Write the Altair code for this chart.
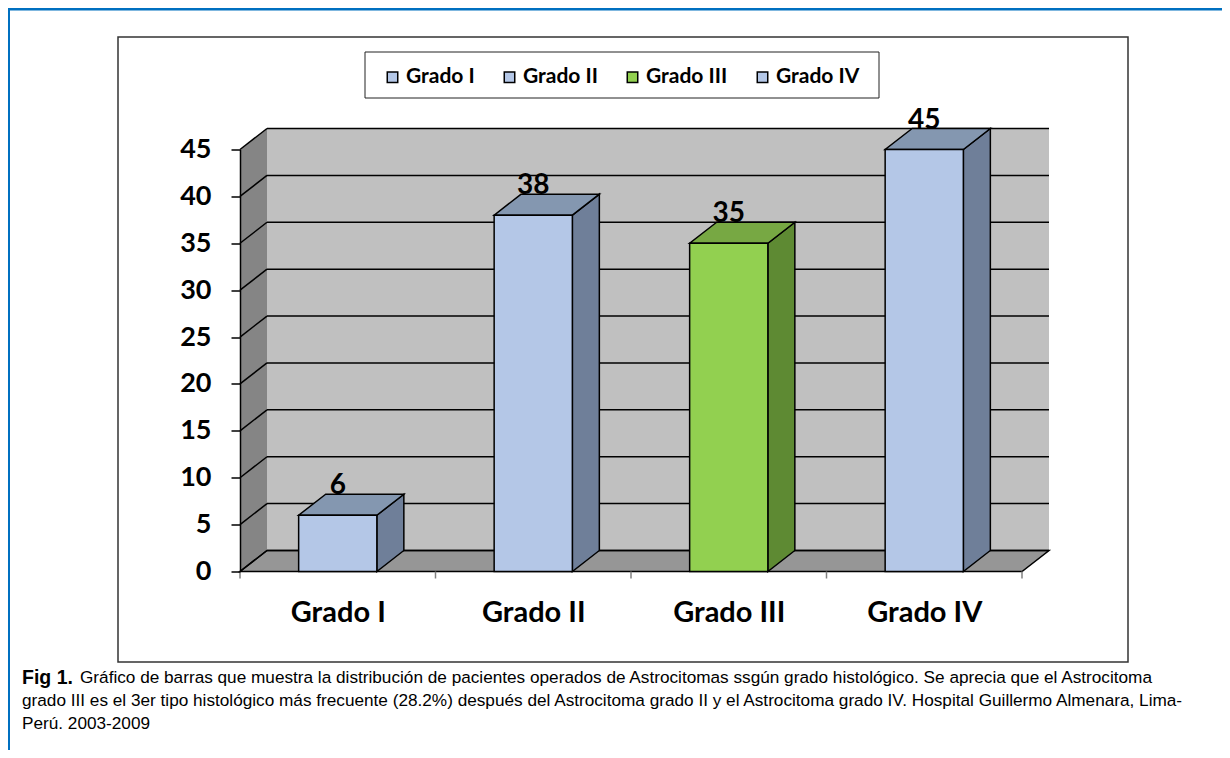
import json
import altair as alt
import pandas as pd

# ---------------- data ----------------
categories = ["Grado I", "Grado II", "Grado III", "Grado IV"]
values = [6, 38, 35, 45]
front_colors = ["#B4C7E7", "#B4C7E7", "#92D050", "#B4C7E7"]
top_colors = ["#8497B0", "#8497B0", "#77A843", "#8497B0"]
side_colors = ["#6F7F99", "#6F7F99", "#5E8A33", "#6F7F99"]
y_ticks = [0, 5, 10, 15, 20, 25, 30, 35, 40, 45]
caption_bold = "Fig 1."
caption_lines = [
    "Gráfico de barras que muestra la distribución de pacientes operados de Astrocitomas ssgún grado histológico. Se aprecia que el Astrocitoma",
    "grado III es el 3er tipo histológico más frecuente (28.2%) después del Astrocitoma grado II y el Astrocitoma grado IV. Hospital Guillermo Almenara, Lima-",
    "Perú. 2003-2009",
]

# ---------------- geometry / style ----------------
W, H = 782, 422
N = len(categories)
Y_MAX = y_ticks[-1]
DX = 27 / (W / N)          # depth in x data units
DY = 21 / (H / Y_MAX)      # depth in y data units
BAR = 0.4
FONT = "Lato"
CAP_FONT = "Liberation Sans Narrow, Arial Narrow, Liberation Sans"

xs = alt.Scale(domain=[0, N], nice=False, zero=False)
ys = alt.Scale(domain=[0, Y_MAX], nice=False, zero=False)

label_expr = json.dumps(categories) + "[floor(datum.value)]"
x_axis = alt.Axis(values=[i + 0.5 for i in range(N)], labelExpr=label_expr, ticks=False,
                  domain=False, grid=False, title=None, labelFont=FONT, labelFontSize=29,
                  labelFontWeight="bold", labelColor="black", labelPadding=27)
y_axis = alt.Axis(values=y_ticks, grid=False, title=None, labelFont=FONT, labelFontSize=27,
                  labelFontWeight="bold", labelColor="black", tickColor="black", tickSize=9,
                  tickWidth=1.5, domainColor="black", domainWidth=1.5, labelPadding=20, zindex=1)


def X(f, stack=False):
    if stack:
        return alt.X(f, type="quantitative", scale=xs, axis=x_axis, stack=None)
    return alt.X(f, type="quantitative", scale=xs, axis=x_axis)


def Y(f, stack=False):
    if stack:
        return alt.Y(f, type="quantitative", scale=ys, axis=y_axis, stack=None)
    return alt.Y(f, type="quantitative", scale=ys, axis=y_axis)


# ---------------- derived tables ----------------
one = pd.DataFrame({"a": [0]})

wall = pd.DataFrame({"x": [DX], "x2": [N + DX], "y": [DY], "y2": [Y_MAX + DY]})
left_wall = pd.DataFrame({"x": [0, DX], "y": [Y_MAX, Y_MAX + DY], "y2": [0, DY], "g": ["w", "w"]})
floor = pd.DataFrame({"y": [0, DY], "x": [0, DX], "x2": [N, N + DX], "g": ["f", "f"]})
grid_h = pd.DataFrame({"x": [DX] * len(y_ticks), "x2": [N + DX] * len(y_ticks),
                       "y": [v + DY for v in y_ticks]})
grid_d = pd.DataFrame({"x": [0] * len(y_ticks), "x2": [DX] * len(y_ticks),
                       "y": y_ticks, "y2": [v + DY for v in y_ticks]})
xticks = pd.DataFrame({"x": list(range(N + 1)), "y": [0] * (N + 1),
                       "y2": [-7 / (H / Y_MAX)] * (N + 1)})

front_rows, top_rows, side_rows = [], [], []
for i, (c, v) in enumerate(zip(categories, values)):
    L, R = i + 0.5 - BAR / 2, i + 0.5 + BAR / 2
    front_rows.append({"cat": c, "x": L, "x2": R, "y": v, "y2": 0, "lx": i + 0.5, "lab": str(v)})
    top_rows += [{"cat": c, "y": v, "x": L, "x2": R, "fill": top_colors[i]},
                 {"cat": c, "y": v + DY, "x": L + DX, "x2": R + DX, "fill": top_colors[i]}]
    side_rows += [{"cat": c, "x": R, "y": v, "y2": 0, "fill": side_colors[i]},
                  {"cat": c, "x": R + DX, "y": v + DY, "y2": DY, "fill": side_colors[i]}]
front = pd.DataFrame(front_rows)
tops = pd.DataFrame(top_rows)
sides = pd.DataFrame(side_rows)

# ---------------- layers ----------------
back_l = alt.Chart(wall).mark_rect(fill="#C0C0C0").encode(x=X("x"), x2="x2", y=Y("y"), y2="y2")
left_l = alt.Chart(left_wall).mark_area(fill="#858585").encode(
    x=X("x"), y=Y("y", True), y2="y2", detail="g:N")
floor_l = alt.Chart(floor).mark_area(orient="horizontal", fill="#969696", stroke="black",
                                     strokeWidth=1.5).encode(
    y=Y("y"), x=X("x", True), x2="x2", detail="g:N")
gridh_l = alt.Chart(grid_h).mark_rule(color="black", strokeWidth=1.5).encode(
    x=X("x"), x2="x2", y=Y("y"))
gridd_l = alt.Chart(grid_d).mark_rule(color="black", strokeWidth=1.5).encode(
    x=X("x"), x2="x2", y=Y("y"), y2="y2")
xt_l = alt.Chart(xticks).mark_rule(color="#808080", strokeWidth=1.5).encode(
    x=X("x"), y=Y("y"), y2="y2")

side_l = alt.Chart(sides).mark_area(stroke="black", strokeWidth=1.5).encode(
    x=X("x"), y=Y("y", True), y2="y2", detail="cat:N",
    fill=alt.Fill("fill:N", scale=None))
top_l = alt.Chart(tops).mark_area(orient="horizontal", stroke="black", strokeWidth=1.5).encode(
    y=Y("y"), x=X("x", True), x2="x2", detail="cat:N",
    fill=alt.Fill("fill:N", scale=None))
front_l = alt.Chart(front).mark_rect(stroke="black", strokeWidth=1.5).encode(
    x=X("x"), x2="x2", y=Y("y"), y2="y2",
    color=alt.Color("cat:N", scale=alt.Scale(domain=categories, range=front_colors),
                    legend=alt.Legend(orient="none", legendX=142, legendY=-83,
                                      direction="horizontal", columns=N, title=None,
                                      symbolType="square", symbolSize=110,
                                      symbolStrokeColor="black", symbolStrokeWidth=1.5,
                                      labelFont=FONT, labelFontSize=21, labelFontWeight="bold",
                                      labelColor="black", labelOffset=3, columnPadding=24,
                                      padding=0)))
lab_l = alt.Chart(front).mark_text(font=FONT, fontSize=28, fontWeight="bold", color="black",
                                   baseline="middle", dy=-29).encode(
    x=X("lx"), y=Y("y"), text="lab:N")

# decorations (frame, legend box, caption)
legend_box = alt.Chart(one).mark_rect(fill="white", stroke="#222", strokeWidth=1).encode(
    x=alt.value(125), x2=alt.value(639), y=alt.value(-97.5), y2=alt.value(-51.5))
frame = alt.Chart(one).mark_rect(fill="white", fillOpacity=0, stroke="#333", strokeWidth=1.5).encode(
    x=alt.value(-122), x2=alt.value(888), y=alt.value(-112.5), y2=alt.value(512.5))
blue_top = alt.Chart(one).mark_rule(color="#0070C0", strokeWidth=3).encode(
    x=alt.value(-232), x2=alt.value(982), y=alt.value(-140.5))
blue_left = alt.Chart(one).mark_rule(color="#0070C0", strokeWidth=3).encode(
    x=alt.value(-231.5), y=alt.value(-140.5), y2=alt.value(600.5))

cap_layers = [alt.Chart(one).mark_text(font=CAP_FONT, fontSize=19.5, fontWeight="bold",
                                       align="left", baseline="middle", color="black").encode(
    x=alt.value(-218), y=alt.value(528.5), text=alt.value(caption_bold))]
for k, line in enumerate(caption_lines):
    cap_layers.append(alt.Chart(one).mark_text(font=CAP_FONT, fontSize=17.2, align="left",
                                               baseline="middle", color="black").encode(
        x=alt.value(-160 if k == 0 else -218), y=alt.value(528.5 + 23 * k), text=alt.value(line)))

chart = alt.layer(
    blue_top, blue_left, frame, legend_box,
    back_l, left_l, floor_l, gridh_l, gridd_l, xt_l,
    side_l, top_l, front_l, lab_l, *cap_layers
).properties(
    width=W, height=H,
    autosize=alt.AutoSizeParams(type="none"),
    padding={"left": 232, "top": 141.5, "right": 200, "bottom": 178.5},
).configure_view(stroke=None)

chart.save("out.html", embed_options={"renderer": "svg", "actions": False})
